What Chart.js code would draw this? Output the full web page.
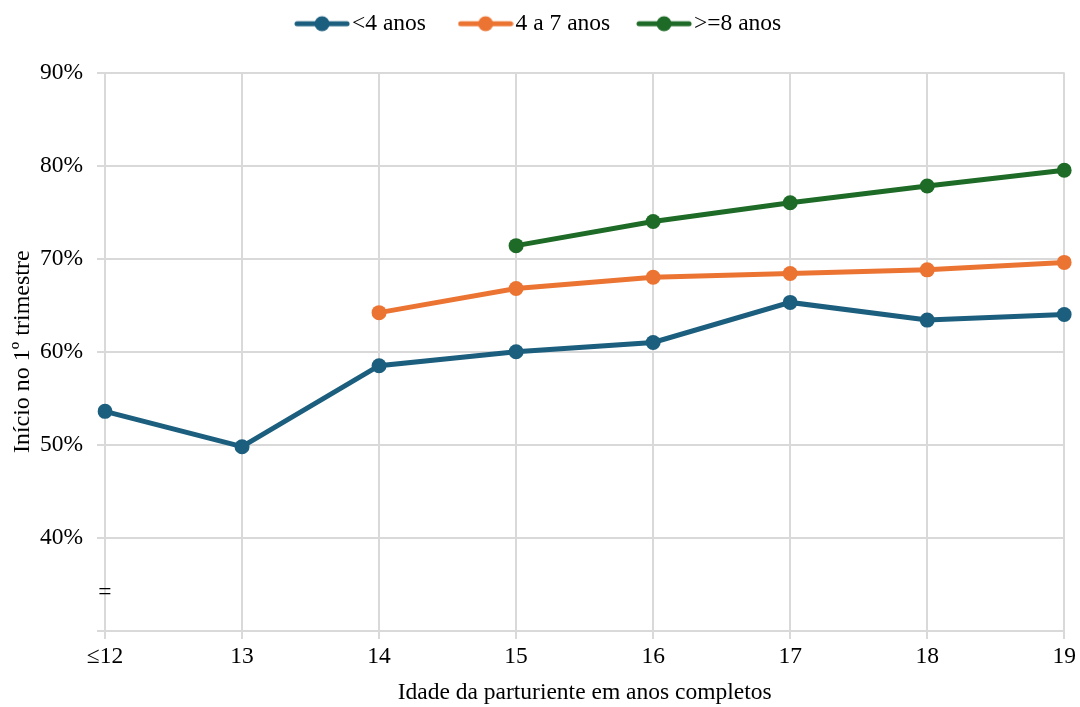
<!DOCTYPE html>
<html>
<head>
<meta charset="utf-8">
<script src="https://cdn.jsdelivr.net/npm/chart.js@4.4.0/dist/chart.umd.min.js"></script>
<style>
  html, body { margin: 0; padding: 0; background: #fff; }
  #wrap { width: 1080px; height: 707px; }
</style>
</head>
<body>
<div id="wrap"><canvas id="chart"></canvas></div>
<script>
// categorias (idade) e séries
var idades = ['≤12', '13', '14', '15', '16', '17', '18', '19'];
var menos4 = [53.6, 49.8, 58.5, 60.0, 61.0, 65.3, 63.4, 64.0];
var de4a7 = [null, null, 64.2, 66.8, 68.0, 68.4, 68.8, 69.6];
var mais8 = [null, null, null, 71.4, 74.0, 76.0, 77.8, 79.5];
var yTicks = [30, 40, 50, 60, 70, 80, 90];

var azul = '#1b5e7e';
var laranja = '#ec7433';
var verde = '#1e6b27';
var fonte = '"Liberation Serif", "Times New Roman", serif';
var tam = 23.5;

// icone da legenda: linha com marcador, quase encostado no texto
function legendIcon(color) {
    var c = document.createElement('canvas');
    c.width = 56;
    c.height = 18;
    var ctx = c.getContext('2d');
    ctx.strokeStyle = color;
    ctx.lineWidth = 5;
    ctx.lineCap = 'round';
    ctx.beginPath();
    ctx.moveTo(3, 9);
    ctx.lineTo(53, 9);
    ctx.stroke();
    ctx.fillStyle = color;
    ctx.beginPath();
    ctx.arc(28, 9, 7.5, 0, Math.PI * 2);
    ctx.fill();
    return c;
}

// simbolo de quebra do eixo "="
var breakMark = {
    id: 'breakMark',
    afterDraw: function (chart) {
        var ctx = chart.ctx;
        var x = chart.scales.x.getPixelForValue(0);
        var y = chart.scales.y.getPixelForValue(34.1);
        ctx.save();
        ctx.font = tam + 'px ' + fonte;
        ctx.fillStyle = '#000';
        ctx.textAlign = 'center';
        ctx.textBaseline = 'middle';
        ctx.fillText('=', x, y);
        ctx.restore();
    }
};

// espaço extra abaixo da legenda
var legendMargin = {
    id: 'legendMargin',
    beforeInit: function (chart) {
        var fit = chart.legend.fit;
        chart.legend.fit = function () {
            fit.bind(chart.legend)();
            this.height += 27;
        };
    }
};

function serie(label, data, color) {
    return {
        label: label,
        data: data,
        borderColor: color,
        backgroundColor: color,
        borderWidth: 5,
        pointRadius: 7.5,
        pointHoverRadius: 7.5,
        pointBackgroundColor: color,
        pointBorderColor: color,
        pointBorderWidth: 0,
        pointStyle: 'circle',
        icon: legendIcon(color),
        tension: 0,
        spanGaps: false
    };
}

var datasets = [
    serie('<4 anos', menos4, azul),
    serie('4 a 7 anos', de4a7, laranja),
    serie('>=8 anos', mais8, verde)
];
// espaços no fim para afastar o item seguinte
var legendPad = ['     ', '    ', ''];

new Chart(document.getElementById('chart'), {
    type: 'line',
    data: { labels: idades, datasets: datasets },
    options: {
        responsive: true,
        maintainAspectRatio: false,
        animation: false,
        layout: { padding: { left: 8, right: 3, top: 0, bottom: 0 } },
        plugins: {
            legend: {
                position: 'top',
                labels: {
                    usePointStyle: true,
                    pointStyleWidth: 56 - tam + 4,
                    boxHeight: 18,
                    font: { family: fonte, size: tam },
                    color: '#000',
                    padding: 12,
                    generateLabels: function (chart) {
                        return chart.data.datasets.map(function (d, i) {
                            return {
                                text: d.label + legendPad[i],
                                pointStyle: d.icon,
                                fillStyle: d.borderColor,
                                strokeStyle: d.borderColor,
                                lineWidth: 0,
                                hidden: false,
                                datasetIndex: i
                            };
                        });
                    }
                }
            },
            tooltip: { enabled: false }
        },
        scales: {
            x: {
                offset: false,
                afterFit: function (scale) { scale.height = 76; },
                grid: { color: '#d9d9d9', lineWidth: 2, tickLength: 8, drawTicks: true },
                border: { display: false },
                ticks: {
                    color: '#000',
                    font: { family: fonte, size: tam },
                    maxRotation: 0,
                    padding: 4
                },
                title: {
                    display: true,
                    text: 'Idade da parturiente em anos completos',
                    color: '#000',
                    font: { family: fonte, size: tam },
                    padding: { top: 0, bottom: 0 }
                }
            },
            y: {
                min: 30,
                max: 90,
                afterBuildTicks: function (scale) {
                    scale.ticks = yTicks.map(function (v) { return { value: v }; });
                },
                afterFit: function (scale) { scale.width = 97; },
                grid: { color: '#d9d9d9', lineWidth: 2, tickLength: 8 },
                border: { display: false },
                ticks: {
                    color: '#000',
                    font: { family: fonte, size: tam },
                    padding: 14,
                    callback: function (v) { return v === 30 ? '' : v + '%'; }
                },
                title: {
                    display: true,
                    text: 'Início no 1º trimestre',
                    color: '#000',
                    font: { family: fonte, size: 24 },
                    padding: { top: 0, bottom: 0 }
                }
            }
        }
    },
    plugins: [breakMark, legendMargin]
});
</script>
</body>
</html>
